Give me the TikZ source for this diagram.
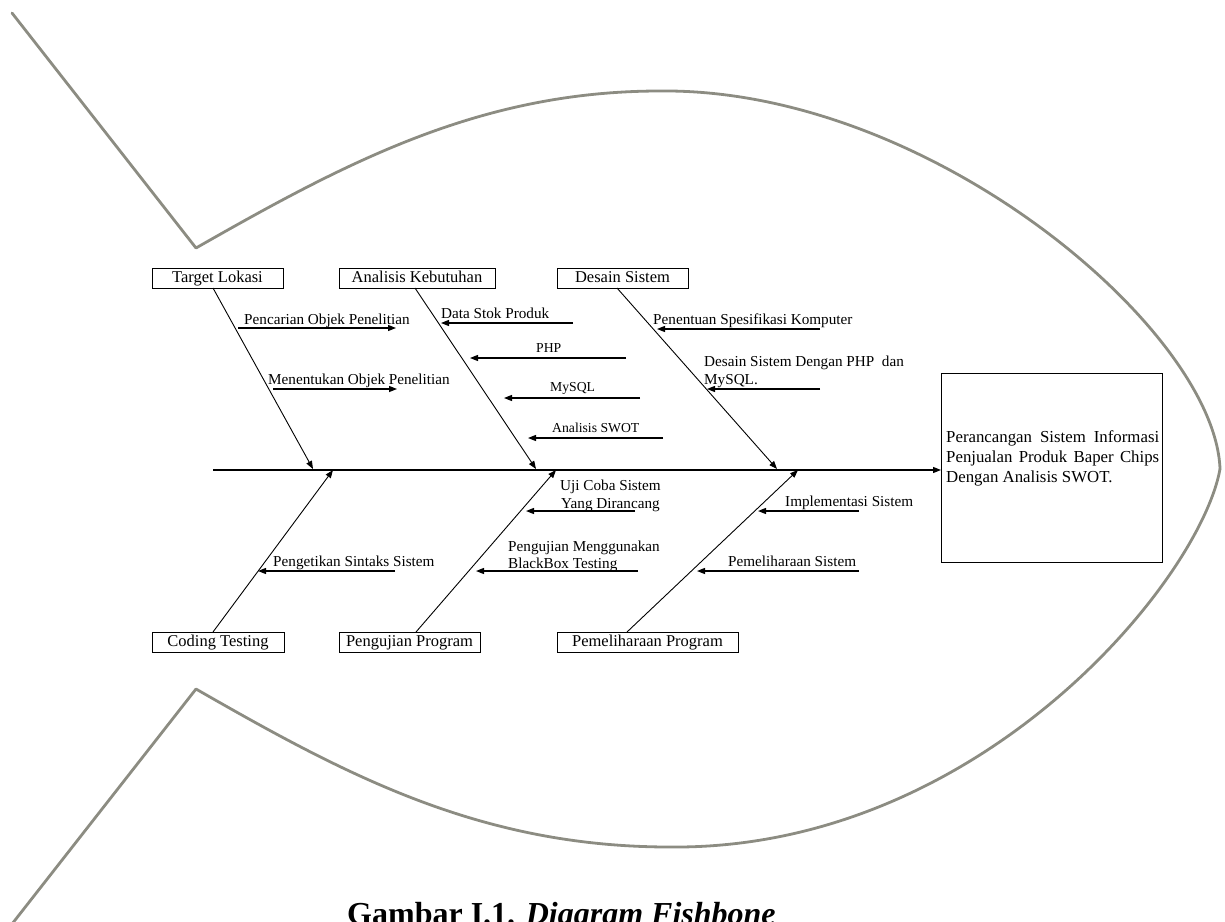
\documentclass[tikz,border=0pt]{standalone}
\usepackage{fontspec}
\setmainfont{Liberation Serif}
\usetikzlibrary{arrows.meta}
\definecolor{fishgray}{RGB}{140,140,130}
\begin{document}
\begin{tikzpicture}[x=1pt,y=-1pt,
  fish/.style={line width=2.8pt, draw=fishgray, line cap=round, line join=round},
  cause/.style={draw, line width=1pt, inner sep=0pt, minimum height=20pt, text height=12pt, text depth=3.5pt, font=\fontsize{16.5}{19}\selectfont},
  lbl/.style={inner sep=0pt, anchor=base west, font=\fontsize{15.2}{18}\selectfont},
  smalllbl/.style={inner sep=0pt, anchor=base west, font=\fontsize{13.7}{16}\selectfont},
  goalline/.style={inner sep=0pt, anchor=base west, font=\fontsize{16.8}{20}\selectfont},
  bone/.style={line width=0.9pt, -{Triangle[length=8pt,width=6pt]}},
  sub/.style={line width=1.3pt, -{Triangle[length=8pt,width=6pt]}},
  spine/.style={line width=1.2pt, -{Triangle[length=8pt,width=6pt]}}]
\useasboundingbox (0,0) rectangle (1225,921);

% ---------- fish outline ----------
\draw[fish] (12,13) -- (196,248)
  .. controls (346,162.5) and (480,91) .. (660,91)
  .. controls (930,88) and (1215,330) .. (1220,469);
\draw[fish] (12,924) -- (196,689)
  .. controls (346,775) and (480,847) .. (670,847)
  .. controls (980,850) and (1200,580) .. (1220,469);

% ---------- effect box ----------
\node[draw, line width=1pt, minimum width=221pt, minimum height=189pt, inner sep=0pt, anchor=north west] (goal) at (941,373) {};
\node[goalline] (g1) at (946,442) {\hbox to 213pt{Perancangan\hfill Sistem\hfill Informasi}};
\node[goalline] (g2) at (946,462) {\hbox to 213pt{Penjualan\hfill Produk\hfill Baper\hfill Chips}};
\node[goalline] (g3) at (946,482) {Dengan Analisis SWOT.};

% ---------- spine ----------
\coordinate (head) at (213,470);
\draw[spine] (head) -- (head -| goal.west);

% ---------- category boxes ----------
\node[cause, minimum width=131pt] (tl) at (217.5,278) {Target Lokasi};
\node[cause, minimum width=156pt] (ak) at (417,278) {Analisis Kebutuhan};
\node[cause, minimum width=131pt] (ds) at (622.5,278) {Desain Sistem};
\node[cause, minimum width=132pt] (ct) at (218,642) {Coding Testing};
\node[cause, minimum width=141pt] (pp) at (409.5,642) {Pengujian Program};
\node[cause, minimum width=181pt] (pm) at (647.5,642) {Pemeliharaan Program};

% ---------- bones ----------
\coordinate (b1s) at (213,288);  \coordinate (b1e) at (313,469);
\coordinate (b2s) at (415,288);  \coordinate (b2e) at (536,469);
\coordinate (b3s) at (617,288);  \coordinate (b3e) at (777,469);
\coordinate (b4s) at (213,632);  \coordinate (b4e) at (333,470);
\coordinate (b5s) at (416,632);  \coordinate (b5e) at (556,470);
\coordinate (b6s) at (627,632);  \coordinate (b6e) at (798,470);
\draw[bone] (b1s) -- (b1e);
\draw[bone] (b2s) -- (b2e);
\draw[bone] (b3s) -- (b3e);
\draw[bone] (b4s) -- (b4e);
\draw[bone] (b5s) -- (b5e);
\draw[bone] (b6s) -- (b6e);

% ---------- sub causes: Target Lokasi ----------
\coordinate (a1s) at (238,328); \coordinate (a1e) at (396,328);
\coordinate (a2s) at (273,389); \coordinate (a2e) at (397,389);
\draw[sub] (a1s) -- (a1e);
\draw[sub] (a2s) -- (a2e);
\node[lbl] (l1) at (244,324) {Pencarian Objek Penelitian};
\node[lbl] (l2) at (268,384.5) {Menentukan Objek Penelitian};

% ---------- sub causes: Analisis Kebutuhan ----------
\coordinate (a3s) at (573,323); \coordinate (a3e) at (441,323);
\coordinate (a4s) at (626,358); \coordinate (a4e) at (470,358);
\coordinate (a5s) at (640,398); \coordinate (a5e) at (504,398);
\coordinate (a6s) at (663,438); \coordinate (a6e) at (528,438);
\draw[sub] (a3s) -- (a3e);
\draw[sub] (a4s) -- (a4e);
\draw[sub] (a5s) -- (a5e);
\draw[sub] (a6s) -- (a6e);
\node[lbl] (l3) at (441,318) {Data Stok Produk};
\node[smalllbl] (l4) at (536,352) {PHP};
\node[smalllbl] (l5) at (550,391) {MySQL};
\node[smalllbl] (l6) at (552,432) {Analisis SWOT};

% ---------- sub causes: Desain Sistem ----------
\coordinate (a7s) at (820,329); \coordinate (a7e) at (657,329);
\coordinate (a8s) at (820,389); \coordinate (a8e) at (707,389);
\draw[sub] (a7s) -- (a7e);
\draw[sub] (a8s) -- (a8e);
\node[lbl] (l7) at (653,324) {Penentuan Spesifikasi Komputer};
\node[lbl] (l8a) at (704,366) {Desain Sistem Dengan PHP\ \ dan};
\node[lbl] (l8b) at (704,384.3) {MySQL.};

% ---------- sub causes: Pengujian Program ----------
\coordinate (a9s) at (635,511);  \coordinate (a9e) at (526,511);
\coordinate (a10s) at (638,571); \coordinate (a10e) at (476,571);
\draw[sub] (a9s) -- (a9e);
\draw[sub] (a10s) -- (a10e);
\node[lbl] (l9a) at (560,490) {Uji Coba Sistem};
\node[lbl] (l9b) at (561,508.3) {Yang Dirancang};
\node[lbl] (l10a) at (508,551) {Pengujian Menggunakan};
\node[lbl] (l10b) at (508,568.3) {BlackBox Testing};

% ---------- sub causes: Pemeliharaan Program ----------
\coordinate (a11s) at (859,511); \coordinate (a11e) at (758,511);
\coordinate (a12s) at (859,571); \coordinate (a12e) at (697,571);
\draw[sub] (a11s) -- (a11e);
\draw[sub] (a12s) -- (a12e);
\node[lbl] (l11) at (785,506) {Implementasi Sistem};
\node[lbl] (l12) at (728,566.7) {Pemeliharaan Sistem};

% ---------- sub causes: Coding Testing ----------
\coordinate (a13s) at (395,571); \coordinate (a13e) at (258,571);
\draw[sub] (a13s) -- (a13e);
\node[lbl] (l13) at (273,566.7) {Pengetikan Sintaks Sistem};

% ---------- caption (cut by the page edge, as in the reference) ----------
\node[inner sep=0pt, anchor=base west, font=\fontsize{32}{36}\selectfont\bfseries] (cap) at (347,924) {Gambar I.1. \textit{Diagram Fishbone}};
\end{tikzpicture}
\end{document}
